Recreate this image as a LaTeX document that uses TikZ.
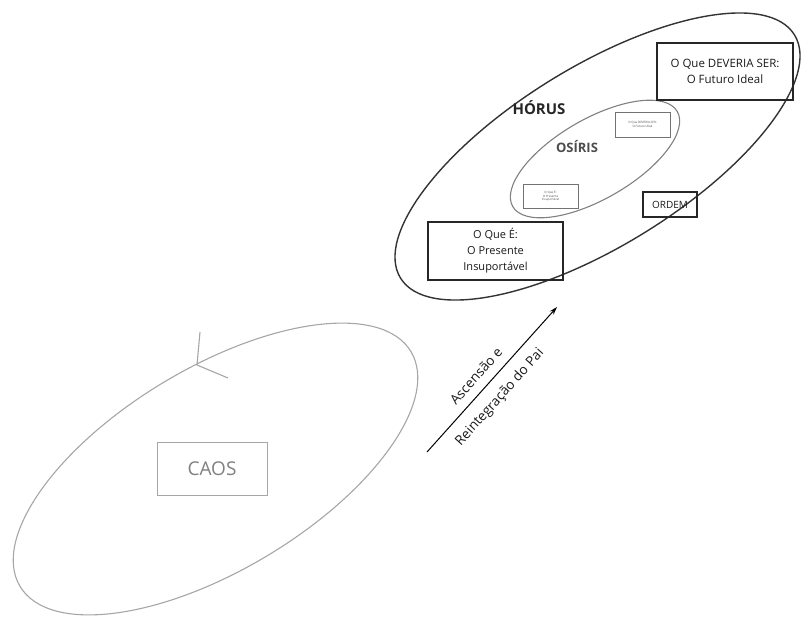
\documentclass[tikz,border=0pt]{standalone}
\usepackage{fontspec}
\setmainfont{Open Sans}
\usetikzlibrary{arrows.meta}
\begin{document}
\begin{tikzpicture}[x=1pt,y=-1pt,
  horusline/.style={draw=black!80,line width=1.4pt},
  osirisline/.style={draw=black!50,line width=1.1pt},
  caosline/.style={draw=black!35,line width=1.1pt},
  bigbox/.style={draw=black!85,line width=1.4pt,align=center,inner sep=0pt,
    text=black!90,font=\fontsize{11.5}{15.5}\selectfont},
  tinybox/.style={draw=black!55,line width=0.7pt,align=center,inner sep=0pt,
    font=\fontsize{3}{3.8}\selectfont,text=black!70,minimum width=55pt,minimum height=24pt},
  caosbox/.style={draw=black!35,line width=1pt,inner sep=0pt,
    minimum width=110pt,minimum height=53pt,text=black!50,font=\fontsize{19}{22}\selectfont},
  godlabel/.style={inner sep=0pt,text=black!85},
  arrowlabel/.style={inner sep=0pt,rotate=48.1,text=black!90,font=\fontsize{13.5}{16}\selectfont}
]
\useasboundingbox (0,0) rectangle (803,616);

% outer domain (Hórus) and inner domain (Osíris)
\draw[horusline,rotate around={31.7:(597.5,156.5)}] (597.5,156.5) ellipse [x radius=231.5pt, y radius=89.5pt];
\draw[osirisline,rotate around={30:(595,159)}] (595,159) ellipse [x radius=95pt, y radius=40pt];

% chaos domain
\draw[caosline,rotate around={31:(215.5,469)}] (215.5,469) ellipse [x radius=228pt, y radius=101pt];
\coordinate (tip) at (197,365);
\coordinate (barbA) at (200,332);
\coordinate (barbB) at (228,378);
\draw[caosline] (barbA) -- (tip) -- (barbB);

\node[caosbox] (caos) at (212,468.5) {CAOS};

% labels
\node[godlabel,font=\fontsize{15}{17}\selectfont\bfseries] (horus) at (539,108) {HÓRUS};
\node[godlabel,font=\fontsize{13}{14}\selectfont\bfseries,text=black!70] (osiris) at (577,147) {OSÍRIS};

% boxes in the outer domain
\node[bigbox,minimum width=136pt,minimum height=57pt] (ideal) at (725,71.5)
  {O Que DEVERIA SER:\\O Futuro Ideal};
\node[bigbox,minimum width=135pt,minimum height=58pt,font=\fontsize{11}{16}\selectfont] (present) at (495.5,251)
  {O Que É:\\O Presente\\Insuportável};
\node[bigbox,minimum width=54pt,minimum height=25pt,font=\fontsize{10}{12}\selectfont] (ordem) at (670,204.5) {ORDEM};

% boxes in the inner domain
\node[tinybox,minimum height=25pt] (idealsmall) at (642.5,124.5) {O Que DEVERIA SER:\\O Futuro Ideal};
\node[tinybox] (presentsmall) at (550.5,196) {O Que É:\\O Presente\\Insuportável};

% ascent arrow
\coordinate (arrS) at (427,452);
\coordinate (arrE) at (557,307);
\draw[line width=1pt,-{Stealth[length=8pt,width=5pt]}] (arrS) -- (arrE);
\node[arrowlabel] (asc) at (476,376) {Ascensão e};
\node[arrowlabel] (reint) at (500,397.5) {Reintegração do Pai};
\end{tikzpicture}
\end{document}
